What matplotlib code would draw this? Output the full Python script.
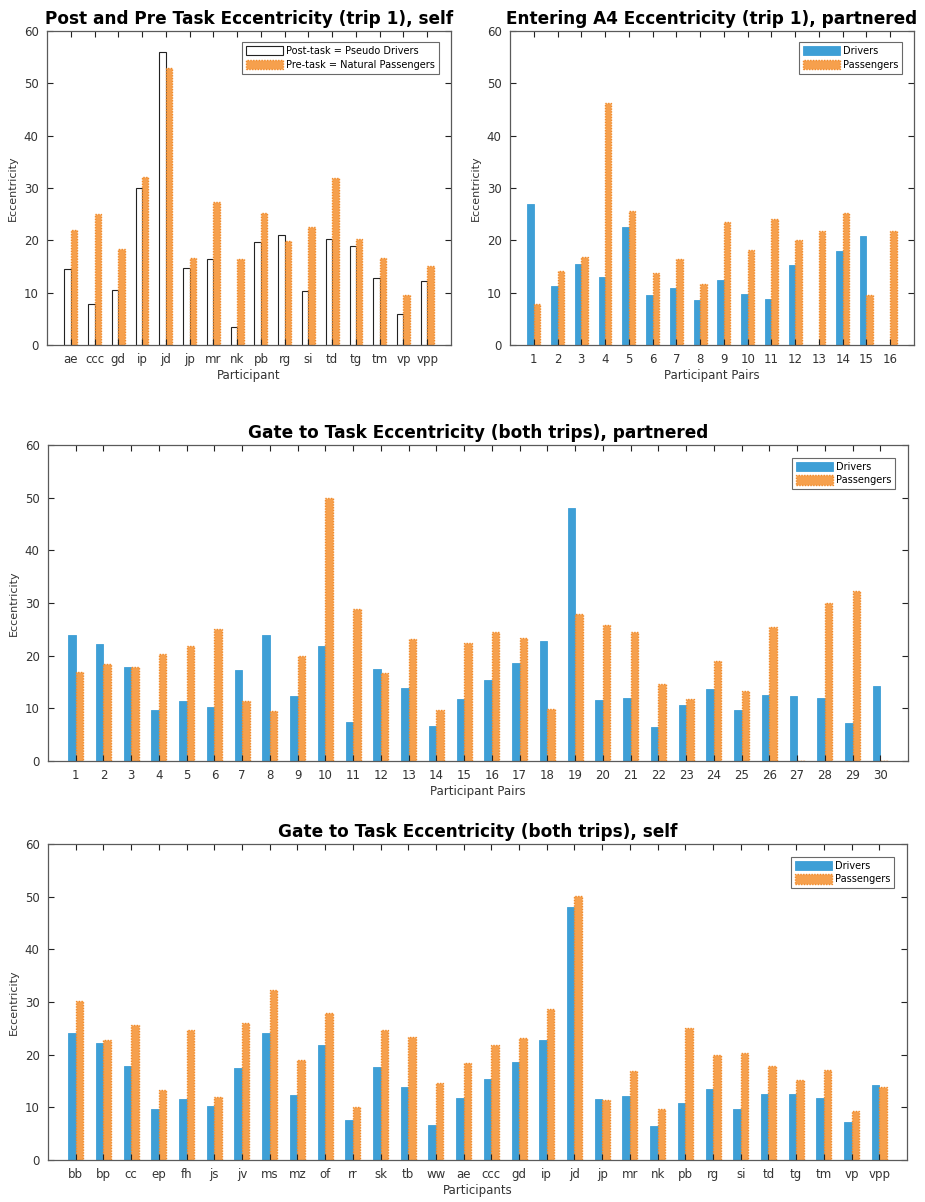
import numpy as np
import matplotlib
matplotlib.use("Agg")
import matplotlib.pyplot as plt

plt.rcParams['font.family'] = ['DejaVu Sans']

# ---- data ----
tl_labels = ["ae", "ccc", "gd", "ip", "jd", "jp", "mr", "nk", "pb", "rg", "si", "td", "tg", "tm", "vp", "vpp"]
tl_post = [14.6, 7.8, 10.6, 30.0, 56.0, 14.7, 16.5, 3.5, 19.7, 21.1, 10.4, 20.2, 18.9, 12.8, 6.0, 12.2]
tl_pre = [21.9, 25.1, 18.4, 32.1, 52.9, 16.7, 27.4, 16.4, 25.3, 19.9, 22.6, 31.9, 20.2, 16.7, 9.5, 15.1]

tr_labels = [str(i) for i in range(1, 17)]
tr_drivers = [27.0, 11.3, 15.4, 13.0, 22.5, 9.6, 10.8, 8.6, 12.5, 9.8, 8.7, 15.2, 0.0, 17.9, 20.8, 0.0]
tr_pass = [7.8, 14.2, 16.8, 46.3, 25.7, 13.8, 16.4, 11.7, 23.5, 18.2, 24.1, 20.0, 21.7, 25.3, 9.5, 21.8]

mid_labels = [str(i) for i in range(1, 31)]
mid_drivers = [24.0, 22.3, 17.8, 9.6, 11.4, 10.3, 17.2, 24.0, 12.3, 21.8, 7.5, 17.5, 13.8, 6.6, 11.7,
               15.3, 18.6, 22.8, 48.1, 11.5, 12.0, 6.5, 10.7, 13.6, 9.6, 12.5, 12.4, 11.9, 7.2, 14.3]
mid_pass = [16.9, 18.5, 17.9, 20.3, 21.9, 25.1, 11.3, 9.4, 19.9, 50.0, 28.8, 16.8, 23.1, 9.6, 22.5,
            24.5, 23.4, 9.9, 27.9, 25.9, 24.5, 14.6, 11.8, 18.9, 13.2, 25.5, 0.0, 30.0, 32.3, 0.0]

bot_labels = ["bb", "bp", "cc", "ep", "fh", "js", "jv", "ms", "mz", "of", "rr", "sk", "tb", "ww", "ae",
              "ccc", "gd", "ip", "jd", "jp", "mr", "nk", "pb", "rg", "si", "td", "tg", "tm", "vp", "vpp"]
bot_drivers = [24.2, 22.3, 17.8, 9.6, 11.5, 10.3, 17.4, 24.2, 12.3, 21.8, 7.6, 17.6, 13.9, 6.6, 11.7,
               15.4, 18.7, 22.8, 48.1, 11.5, 12.2, 6.5, 10.8, 13.5, 9.6, 12.5, 12.5, 11.8, 7.2, 14.2]
bot_pass = [30.1, 22.7, 25.6, 13.2, 24.7, 12.0, 26.1, 32.3, 18.9, 28.0, 10.0, 24.6, 23.4, 14.7, 18.5,
            21.9, 23.2, 28.7, 50.1, 11.3, 16.9, 9.7, 25.1, 19.9, 20.3, 17.8, 15.1, 17.1, 9.3, 13.9]

BLUE = '#3E9FD6'
ORANGE = '#F6A04D'
ORANGE_EDGE = '#F08A2A'
AXC = '#5a5a5a'

W, H = 925, 1202
fig = plt.figure(figsize=(W / 100, H / 100), dpi=100)


def ax_at(x0, y0, x1, y1):
    return fig.add_axes([x0 / W, 1 - y1 / H, (x1 - x0) / W, (y1 - y0) / H])


def draw(ax, labels, s1, s2, names, title, xlabel, first_white=False, legend_box=None):
    n = len(labels)
    x = np.arange(1, n + 1)
    bw = 0.27
    if first_white:
        ax.bar(x - bw / 2, s1, bw, color='white', edgecolor='#222222', linewidth=0.8, label=names[0])
    else:
        ax.bar(x - bw / 2, s1, bw, color=BLUE, edgecolor=BLUE, linewidth=0.6, label=names[0])
    ax.bar(x + bw / 2, s2, bw, color=ORANGE, edgecolor=ORANGE_EDGE, linewidth=1.0,
           linestyle=(0, (1, 1)), label=names[1])
    ax.set_xlim(0, n + 1)
    ax.set_ylim(0, 60)
    ax.set_yticks(range(0, 61, 10))
    ax.set_xticks(x)
    ax.set_xticklabels(labels)
    ax.tick_params(direction='in', top=True, right=True, length=4, width=0.8,
                   labelsize=8.5, colors='#222222', labelcolor='#333333', pad=6)
    for s in ax.spines.values():
        s.set_color(AXC)
        s.set_linewidth(0.9)
    ax.set_title(title, fontsize=12.2, fontweight='bold', pad=5)
    ax.set_xlabel(xlabel, fontsize=8.5, color='#333333', labelpad=2)
    ax.set_ylabel('Eccentricity', fontsize=8, color='#333333', labelpad=4)
    leg = ax.legend(loc='upper right', fontsize=7, frameon=True, fancybox=False,
                    edgecolor='#444444', handlelength=3.8, handleheight=1.1,
                    borderpad=0.4, labelspacing=0.4, handletextpad=0.3,
                    bbox_to_anchor=legend_box, borderaxespad=0.0)
    leg.get_frame().set_linewidth(0.8)
    return ax


ax1 = ax_at(47, 31, 451, 345)
draw(ax1, tl_labels, tl_post, tl_pre,
     ['Post-task = Pseudo Drivers', 'Pre-task = Natural Passengers'],
     'Post and Pre Task Eccentricity (trip 1), self', 'Participant', first_white=True,
     legend_box=(0.97, 0.965))

ax2 = ax_at(510, 31, 914, 345)
draw(ax2, tr_labels, tr_drivers, tr_pass, ['Drivers', 'Passengers'],
     'Entering A4 Eccentricity (trip 1), partnered', 'Participant Pairs',
     legend_box=(0.97, 0.965))

ax3 = ax_at(48, 445, 908, 761)
draw(ax3, mid_labels, mid_drivers, mid_pass, ['Drivers', 'Passengers'],
     'Gate to Task Eccentricity (both trips), partnered', 'Participant Pairs',
     legend_box=(0.985, 0.96))

ax4 = ax_at(48, 844, 907, 1160)
draw(ax4, bot_labels, bot_drivers, bot_pass, ['Drivers', 'Passengers'],
     'Gate to Task Eccentricity (both trips), self', 'Participants',
     legend_box=(0.985, 0.96))

fig.savefig('out.png', dpi=100, facecolor='white')
